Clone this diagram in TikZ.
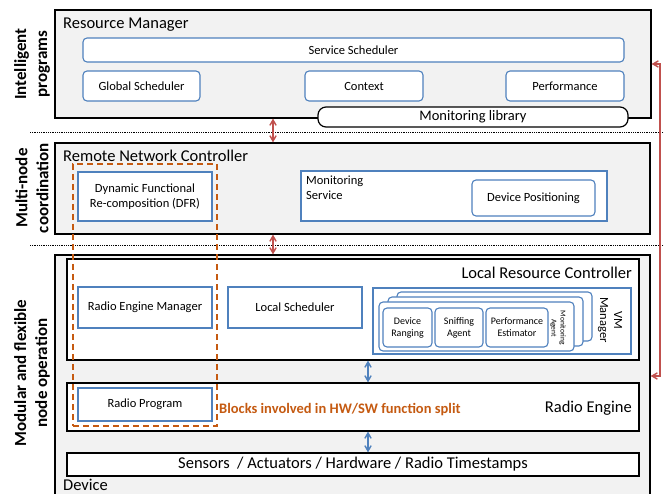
\documentclass[tikz,border=0pt]{standalone}
\usepackage{fontspec}
\setmainfont{Carlito}
\usetikzlibrary{calc,arrows,backgrounds}

\definecolor{boxblue}{RGB}{79,129,189}
\definecolor{panelgray}{RGB}{242,242,242}
\definecolor{splitorange}{RGB}{197,90,17}
\definecolor{linkred}{RGB}{192,80,77}

\tikzset{
  panel/.style={draw=black, line width=1.2pt, fill=panelgray, inner sep=0pt},
  layer/.style={draw=black, line width=1.2pt, fill=white, inner sep=0pt},
  block/.style={draw=boxblue, line width=1.1pt, fill=white, align=center, inner sep=0pt,
    font=\fontsize{12.5}{15}\selectfont},
  rblock/.style={block, rounded corners=4pt},
  smalltxt/.style={align=center, inner sep=0pt, font=\fontsize{10}{12}\selectfont},
  title/.style={inner sep=0pt, font=\fontsize{16.5}{19}\selectfont},
  side/.style={rotate=90, align=center, font=\bfseries\fontsize{17}{21}\selectfont},
  sepline/.style={densely dotted, line width=0.8pt},
  redlink/.style={angle 60-angle 60, draw=linkred, line width=1.4pt},
  bluelink/.style={angle 60-angle 60, draw=boxblue, line width=1.4pt},
}

\begin{document}
\begin{tikzpicture}[x=1pt,y=-1pt]
  \useasboundingbox (0,0) rectangle (664,494);

  % side labels
  \node[side] (lintel) at (32,64) {Intelligent\\programs};
  \node[side] (lmulti) at (32,188) {Multi-node\\coordination};
  \node[side] (lmodul) at (32,373) {Modular and flexible\\node operation};

  % separators
  \draw[sepline] (30,132) -- (664,132);
  \draw[sepline] (30,245) -- (664,245);

  % resource manager
  \node[panel, minimum width=596, minimum height=108] (rm) at (353,64) {};
  \node[title, anchor=base west] (rmtitle) at (63,29) {Resource Manager};
  \node[rblock, minimum width=541, minimum height=24] (ssched) at (353.5,50) {Service Scheduler};
  \node[rblock, minimum width=117, minimum height=30] (gsched) at (141.5,86) {Global Scheduler};
  \node[rblock, minimum width=118, minimum height=30] (ctx) at (364,86) {Context};
  \node[rblock, minimum width=118, minimum height=30] (perf) at (565,86) {Performance};
  \node[draw=black, line width=1.2pt, fill=white, rounded corners=8pt, inner sep=0pt,
        minimum width=310, minimum height=20, font=\fontsize{14.5}{17}\selectfont]
        (monlib) at (473,117) {Monitoring library};

  % remote network controller
  \node[panel, minimum width=595, minimum height=91] (rnc) at (352.5,188.5) {};
  \node[title, anchor=base west] (rnctitle) at (63,162) {Remote Network Controller};
  \node[block, minimum width=134, minimum height=49] (dfr) at (145,196.5)
        {Dynamic Functional\\Re-composition (DFR)};
  \node[block, minimum width=306, minimum height=50] (monsrv) at (454,196) {};
  \node[anchor=north west, align=left, inner sep=0pt, font=\fontsize{12.5}{15}\selectfont]
        (monsrvtxt) at (306,176) {Monitoring\\Service};
  \node[rblock, minimum width=123, minimum height=36] (devpos) at (533.5,198) {Device Positioning};

  % device
  \node[panel, minimum width=595, minimum height=250] (device) at (352.5,380) {};
  \node[title, anchor=base west] (devtitle) at (63,490) {Device};

  % local resource controller
  \node[layer, minimum width=572, minimum height=101] (lrc) at (353,309.5) {};
  \node[title, anchor=base east] (lrctitle) at (632,279) {Local Resource Controller};
  \node[block, minimum width=134, minimum height=41] (rem) at (145,307.5) {Radio Engine Manager};
  \node[block, minimum width=134, minimum height=41] (lsched) at (295,307.5) {Local Scheduler};
  \node[block, minimum width=258, minimum height=66] (vmm) at (502,321) {};
  \node[rotate=-90, align=center, inner sep=0pt, font=\fontsize{12.5}{14}\selectfont]
        (vmmtxt) at (610,320) {VM\\Manager};
  \node[rblock, minimum width=195, minimum height=49] (vmback) at (494.5,316.5) {};
  \node[rblock, minimum width=195, minimum height=49] (vmmid) at (485.5,321.5) {};
  \node[rblock, minimum width=195, minimum height=49] (vmfront) at (476.5,326.5) {};
  \node[rblock, smalltxt, minimum width=49, minimum height=39] (devrng) at (407.5,327.5) {Device\\Ranging};
  \node[rblock, smalltxt, minimum width=48, minimum height=39] (sniff) at (459,327.5) {Sniffing\\Agent};
  \node[rblock, smalltxt, minimum width=62, minimum height=39] (perfest) at (517,327.5) {Performance\\Estimator};
  \node[rotate=-90, align=center, inner sep=0pt, font=\fontsize{7.5}{9}\selectfont]
        (monag) at (558,328) {Monitoring\\Agent};

  % radio engine
  \node[layer, minimum width=572, minimum height=48] (re) at (353,407) {};
  \node[title, anchor=base east] (retitle) at (632,412.5) {Radio Engine};
  \node[block, minimum width=134, minimum height=33] (rprog) at (145,404.5) {Radio Program};

  % sensors
  \node[layer, minimum width=572, minimum height=23, font=\fontsize{16.5}{19}\selectfont]
        (sensors) at (353,464.5) {Sensors\ \ / Actuators / Hardware / Radio Timestamps};

  % hw/sw split
  \node[draw=splitorange, dash pattern=on 6pt off 4pt, line width=1.5pt,
        minimum width=144, minimum height=262, inner sep=0pt] (split) at (145,295) {};
  \node[anchor=west, inner sep=0pt, text=splitorange, font=\bfseries\fontsize{14.5}{17}\selectfont]
        (splitlbl) at (219,410) {Blocks involved in HW/SW function split};

  % links
  \coordinate (ax) at (273,0);
  \coordinate (bx) at (368,0);
  \coordinate (rturn) at (660,376);
  \draw[redlink] (ax |- rm.south) -- (ax |- rnc.north);
  \draw[redlink] (ax |- rnc.south) -- (ax |- device.north);
  \draw[bluelink] (bx |- lrc.south) -- (bx |- re.north);
  \draw[bluelink] (bx |- re.south) -- (bx |- sensors.north);
  \draw[redlink] (rm.east) -- (rm.east -| rturn) -- (rturn) -- (rturn -| device.east);
\end{tikzpicture}
\end{document}
